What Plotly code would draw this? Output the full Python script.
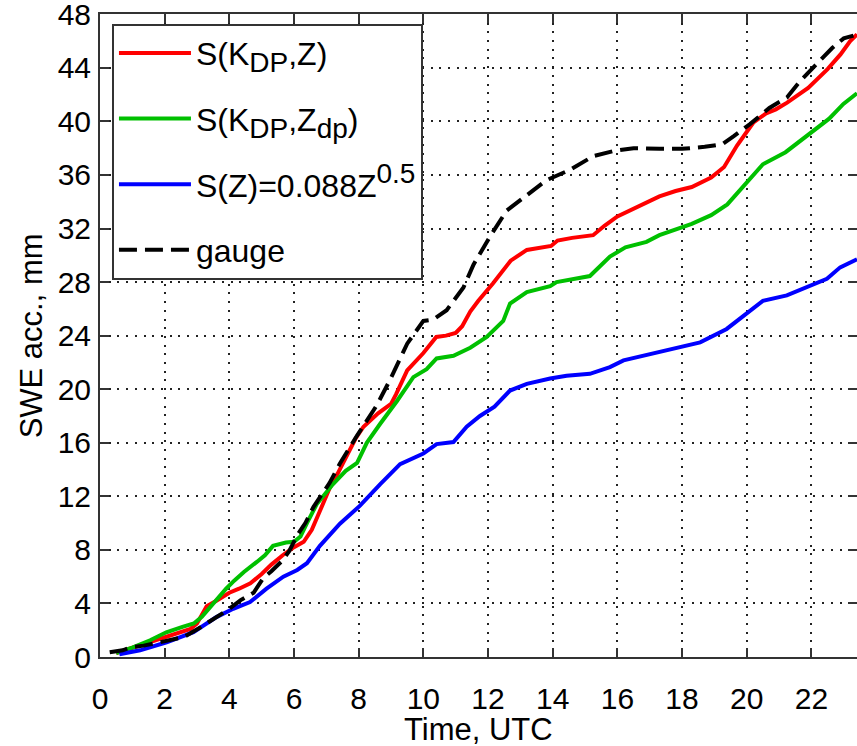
import plotly.graph_objects as go

# ---- data ----
red_t = [0.5, 0.9, 1.3, 1.7, 2.0, 2.4, 2.8, 3.0, 3.3, 3.6, 4.0, 4.3, 4.65, 5.0, 5.3, 5.65, 6.0, 6.3,
         6.55, 6.8, 7.1, 7.35, 7.65, 7.9, 8.15, 8.6, 9.0, 9.15, 9.5, 10.0, 10.4, 10.7, 11.0, 11.2,
         11.45, 11.7, 12.15, 12.7, 13.2, 13.6, 13.95, 14.15, 14.6, 15.25, 15.6, 16.0, 16.5, 16.9,
         17.3, 17.8, 18.3, 18.9, 19.3, 19.7, 20.2, 20.6, 20.9, 21.25, 21.9, 22.5, 22.9, 23.2, 23.41]
red_v = [0.3, 0.6, 0.9, 1.2, 1.5, 1.8, 2.1, 2.5, 3.8, 4.2, 4.8, 5.1, 5.5, 6.2, 6.9, 7.6, 8.2, 8.6,
         9.5, 10.9, 12.6, 13.7, 15.2, 16.3, 17.2, 18.2, 18.9, 19.6, 21.4, 22.7, 23.9, 24.0, 24.2, 24.7,
         25.8, 26.6, 27.9, 29.6, 30.4, 30.6, 30.7, 31.1, 31.3, 31.5, 32.2, 32.9, 33.5, 34.0,
         34.4, 34.8, 35.1, 35.8, 36.6, 38.2, 39.9, 40.6, 40.9, 41.4, 42.5, 43.9, 45.0, 46.0, 46.5]

green_t = [0.5, 1.0, 1.55, 2.05, 2.55, 2.9, 3.15, 3.4, 3.65, 3.9, 4.15, 4.45, 4.85, 5.1, 5.35, 5.75,
           6.0, 6.2, 6.4, 6.7, 7.2, 7.6, 7.95, 8.25, 8.66, 9.18, 9.69, 10.1, 10.41, 10.93, 11.45,
           11.96, 12.47, 12.68, 13.2, 13.92, 14.12, 15.15, 15.77, 16.25, 16.9, 17.3, 18.3, 18.9,
           19.4, 19.9, 20.5, 21.2, 21.96, 22.55, 22.99, 23.41]
green_v = [0.3, 0.7, 1.25, 1.85, 2.25, 2.5, 3.0, 3.7, 4.5, 5.1, 5.7, 6.35, 7.1, 7.6, 8.3, 8.55,
           8.6, 9.0, 10.0, 11.4, 12.9, 13.9, 14.5, 16.0, 17.4, 19.1, 20.9, 21.5, 22.3, 22.5, 23.1,
           23.9, 25.1, 26.4, 27.25, 27.7, 28.0, 28.45, 29.9, 30.6, 31.0, 31.5, 32.35, 33.0,
           33.8, 35.2, 36.8, 37.7, 39.1, 40.2, 41.3, 42.1]

blue_t = [0.6, 1.24, 2.06, 2.89, 3.6, 4.12, 4.64, 5.15, 5.67, 6.1, 6.4, 6.8, 7.42, 8.04, 8.66, 9.28,
          10.0, 10.41, 10.93, 11.34, 11.75, 12.2, 12.68, 13.2, 13.92, 14.43, 15.15, 15.77, 16.19,
          16.8, 17.3, 17.94, 18.56, 19.38, 20.0, 20.5, 21.24, 21.96, 22.48, 22.89, 23.41]
blue_v = [0.2, 0.5, 1.1, 1.86, 2.98, 3.6, 4.1, 5.1, 6.0, 6.5, 7.0, 8.3, 9.95, 11.3, 12.9, 14.4,
          15.2, 15.9, 16.05, 17.2, 18.0, 18.7, 19.9, 20.4, 20.8, 21.0, 21.15, 21.65, 22.15,
          22.5, 22.8, 23.15, 23.5, 24.5, 25.7, 26.6, 27.0, 27.75, 28.25, 29.1, 29.7]

gauge_t = [0.3, 0.7, 1.0, 1.35, 1.85, 2.6, 3.1, 3.6, 4.0, 4.35, 4.75, 5.05, 5.3, 5.6, 5.85, 6.1,
           6.35, 6.6, 7.1, 7.42, 7.94, 8.56, 8.97, 9.5, 10.0, 10.3, 10.72, 11.24, 11.55, 12.06,
           12.58, 13.1, 13.8, 14.55, 15.25, 15.9, 16.5, 17.3, 18.0, 18.7, 19.25, 19.6, 20.1,
           20.7, 21.25, 21.65, 22.25, 22.65, 23.0, 23.3]
gauge_v = [0.35, 0.5, 0.75, 0.85, 1.1, 1.5, 2.2, 3.0, 3.6, 4.25, 4.8, 5.9, 6.4, 7.1, 7.9, 9.1,
           10.0, 11.2, 13.0, 14.45, 16.5, 18.8, 20.7, 23.4, 25.1, 25.2, 25.9, 27.6, 29.3, 31.4,
           33.35, 34.3, 35.6, 36.4, 37.4, 37.8, 38.0, 37.95, 37.95, 38.1, 38.3, 38.9, 39.8,
           41.0, 41.8, 43.0, 44.5, 45.5, 46.2, 46.4]

SUB = "<sub><span style='font-size:28px'>{}</span></sub>"
names = ["S(K" + SUB.format("DP") + ",Z)",
         "S(K" + SUB.format("DP") + ",Z" + SUB.format("dp") + ")",
         "S(Z)=0.088Z<sup><span style='font-size:28px'>0.5</span></sup>",
         "gauge"]

x_ticks = list(range(0, 24, 2))
y_ticks = list(range(0, 49, 4))

FONT = "Liberation Sans, Arial, Helvetica, sans-serif"

fig = go.Figure()
series = [(red_t, red_v, "#ff0000", None), (green_t, green_v, "#00c000", None),
          (blue_t, blue_v, "#0000ff", None), (gauge_t, gauge_v, "#000000", "18px,8px")]
for i, (tt, vv, col, dash) in enumerate(series):
    ln = dict(color=col, width=4)
    if dash:
        ln["dash"] = dash
    fig.add_trace(go.Scatter(x=tt, y=vv, mode="lines", name=names[i],
                             legendgroup="g%d" % i, line=ln))

axis_common = dict(
    showline=True, linecolor="#333333", linewidth=2, mirror="ticks",
    ticks="inside", ticklen=9, tickwidth=2, tickcolor="#333333",
    showgrid=True, gridcolor="#222222", gridwidth=1.5, griddash="2px,6.7px",
    zeroline=False, automargin=False, ticklabeloverflow="allow",
    tickfont=dict(family=FONT, size=30, color="#000"),
)

fig.update_layout(
    width=857, height=746,
    margin=dict(l=100, r=0, t=14, b=89),
    paper_bgcolor="white", plot_bgcolor="white",
    font=dict(family=FONT, color="#000"),
    xaxis=dict(range=[0, 23.41], tickvals=x_ticks, ticklabelstandoff=14, **axis_common),
    yaxis=dict(range=[0, 48.02], tickvals=y_ticks, ticklabelstandoff=1, **axis_common),
    legend=dict(x=0.0158, y=0.985, xanchor="left", yanchor="top",
                bgcolor="white", bordercolor="#333333", borderwidth=2,
                font=dict(family=FONT, size=32, color="#000"),
                itemwidth=72, tracegroupgap=21),
    showlegend=True,
    annotations=[
        dict(text="SWE acc., mm", textangle=-90, xref="paper", yref="paper",
             x=-0.09, y=0.5, xanchor="center", yanchor="middle", showarrow=False,
             font=dict(family=FONT, size=31, color="#000")),
        dict(text="Time, UTC", xref="paper", yref="paper",
             x=0.5, y=-0.112, xanchor="center", yanchor="middle", showarrow=False,
             font=dict(family=FONT, size=31, color="#000")),
    ],
)

fig.write_html("out.html", config={"displayModeBar": False},
               post_script="document.body.style.margin='0px';")
